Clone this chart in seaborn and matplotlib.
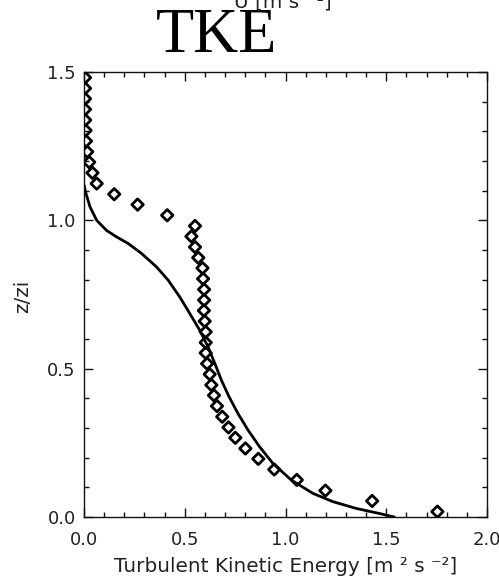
import matplotlib
matplotlib.use("Agg")
import matplotlib.pyplot as plt
from matplotlib.ticker import MultipleLocator
import pandas as pd
import seaborn as sns

# Normalised height z/zi of the diamond profile (bottom to top)
z_points = [0.018, 0.054, 0.089, 0.125, 0.160, 0.196, 0.231, 0.267, 0.302, 0.338,
            0.374, 0.410, 0.445, 0.481, 0.517, 0.553, 0.588, 0.624, 0.660, 0.696,
            0.731, 0.767, 0.803, 0.839, 0.874, 0.910, 0.946, 0.981, 1.017, 1.053,
            1.088, 1.124, 1.160, 1.196, 1.231, 1.267, 1.303, 1.338, 1.374, 1.410,
            1.445, 1.481]
# Turbulent kinetic energy at those heights [m2 s-2]
tke_points = [1.754, 1.430, 1.198, 1.056, 0.944, 0.865, 0.801, 0.751, 0.717, 0.686,
              0.660, 0.645, 0.632, 0.624, 0.611, 0.604, 0.604, 0.604, 0.599, 0.595,
              0.596, 0.596, 0.591, 0.588, 0.567, 0.551, 0.533, 0.551, 0.413, 0.266,
              0.150, 0.063, 0.042, 0.026, 0.016, 0.010, 0.008, 0.006, 0.005, 0.005,
              0.005, 0.005]

# Solid curve profile
z_curve = [0.0, 0.012, 0.029, 0.052, 0.080, 0.125, 0.181, 0.237, 0.293, 0.349,
           0.405, 0.461, 0.518, 0.573, 0.630, 0.686, 0.742, 0.798, 0.843, 0.888,
           0.922, 0.944, 0.966, 1.0, 1.045, 1.090, 1.120]
tke_curve = [1.540, 1.465, 1.350, 1.234, 1.135, 1.028, 0.937, 0.871, 0.814, 0.764,
             0.720, 0.682, 0.649, 0.616, 0.574, 0.525, 0.475, 0.418, 0.360, 0.286,
             0.219, 0.162, 0.112, 0.063, 0.030, 0.010, 0.0]

x_ticks = [0.0, 0.5, 1.0, 1.5, 2.0]
y_ticks = [0.0, 0.5, 1.0, 1.5]

sns.set_theme(style="ticks")
plt.rcParams["font.family"] = ["DejaVu Sans"]

W, H = 499, 582
fig = plt.figure(figsize=(W / 100, H / 100), dpi=100)
fig.patch.set_facecolor("white")
left, right, bottom, top = 84, 487, 517, 72
ax = fig.add_axes([left / W, 1 - bottom / H, (right - left) / W, (bottom - top) / H])
ax.set_facecolor("white")

curve = pd.DataFrame({"tke": tke_curve, "z": z_curve})
points = pd.DataFrame({"tke": tke_points, "z": z_points})

sns.lineplot(data=curve, x="tke", y="z", sort=False, estimator=None,
             color="black", linewidth=2.0, ax=ax)
sns.scatterplot(data=points, x="tke", y="z", marker="D", s=34, color="black",
                linewidth=2.0, ax=ax, zorder=3)
sc = ax.collections[-1]
sc.set_facecolor("none")
sc.set_edgecolor("black")

ax.set_xlim(0, 2.0)
ax.set_ylim(0, 1.5)
ax.set_xticks(x_ticks)
ax.set_yticks(y_ticks)
ax.set_xticklabels([f"{v:.1f}" for v in x_ticks])
ax.set_yticklabels([f"{v:.1f}" for v in y_ticks])
ax.xaxis.set_minor_locator(MultipleLocator(0.1))
ax.yaxis.set_minor_locator(MultipleLocator(0.1))
ax.tick_params(which="both", direction="in", top=True, right=True,
               color="#111111", width=1.0, labelsize=13, labelcolor="#222222")
ax.tick_params(which="major", length=6.5)
ax.tick_params(which="minor", length=3.6)
ax.tick_params(axis="x", pad=10)
ax.tick_params(axis="y", pad=6)
for sp in ax.spines.values():
    sp.set_visible(True)
    sp.set_color("#111111")
    sp.set_linewidth(1.0)

ax.set_xlabel("")
ax.set_ylabel("")
fig.text(286 / W, 1 - 566 / H, "Turbulent Kinetic Energy [m ² s ⁻²]",
         ha="center", va="center", fontsize=14.4, color="#222222")
fig.text(23 / W, 1 - 296 / H, "z/zi", rotation=90,
         ha="center", va="center", fontsize=14.4, color="#222222")

# Title
fig.text(217 / W, 1 - 52 / H, "TKE", ha="center", va="baseline",
         fontsize=45, family=["Liberation Serif", "DejaVu Serif"], color="black")
# Axis label of the panel above, cut by the top edge
fig.text(283 / W, 1 - 8 / H, "U [m s ⁻¹]", ha="center", va="baseline",
         fontsize=14.4, color="#222222")

fig.savefig("out.png", dpi=100, facecolor="white")
